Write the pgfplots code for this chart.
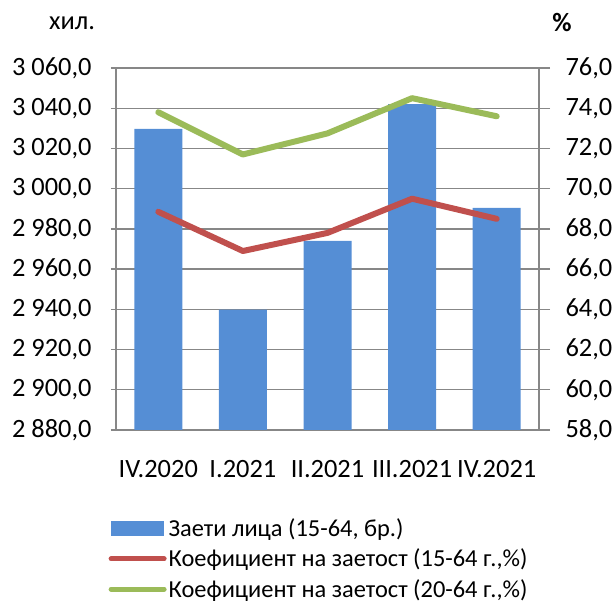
\documentclass[border=0pt]{standalone}
\usepackage{fontspec}
\setmainfont{Carlito}
\usepackage{pgfplots}
\pgfplotsset{compat=1.18}
\definecolor{barblue}{HTML}{558ED5}
\definecolor{lred}{HTML}{C0504D}
\definecolor{lgreen}{HTML}{9BBB59}
\definecolor{gridgray}{HTML}{878787}
\newcommand{\chartfont}{\fontsize{26.5}{31}\selectfont}
\newcommand{\legfont}{\fontsize{24.5}{29}\selectfont}
\pgfplotsset{
  common/.style={
    at={(116bp,181bp)}, anchor=south west,
    scale only axis, width=423bp, height=362bp,
    xmin=-0.5, xmax=4.5,
    tick align=outside,
    tick label style={font=\chartfont},
    ytick style={gridgray, line width=1.3bp},
    axis line style={gridgray, line width=1.3bp},
    yticklabel style={/pgf/number format/fixed, /pgf/number format/fixed zerofill, /pgf/number format/precision=1, /pgf/number format/use comma, /pgf/number format/1000 sep={\ }, /pgf/number format/assume math mode=true},
  }
}
\begin{document}
\begin{tikzpicture}
\useasboundingbox (0,0) rectangle (613bp,611bp);
\begin{axis}[common,
  ymin=2880, ymax=3060, ytick={2880,2900,...,3060},
  major tick length=5bp,
  xtick={0,...,4}, xticklabels={IV.2020,I.2021,II.2021,III.2021,IV.2021},
  xtick style={draw=none},
  xticklabel style={yshift=-22bp},
  ymajorgrids, grid style={gridgray, line width=1.3bp},
  axis y line*=left, axis x line*=bottom,
  yticklabel style={xshift=-16bp},
]
\addplot[ybar, bar width=48bp, fill=barblue, draw=none] coordinates {(0,3029.7) (1,2939.8) (2,2974.0) (3,3042.0) (4,2990.4)};
\end{axis}
\begin{axis}[common,
  ymin=58, ymax=76, ytick={58,60,...,76},
  major tick length=11bp,
  axis y line*=right, axis x line=none,
  yticklabel style={xshift=12bp},
  legend style={at={(-0.025,-0.235)}, anchor=north west, draw=none, fill=none, font=\legfont, row sep=8bp, nodes={inner ysep=1.5bp}},
  legend cell align=left,
]
\addlegendimage{legend image code/.code={\fill[barblue] (0bp,-7bp) rectangle (52bp,7bp);}}
\addlegendentry{Заети лица (15-64, бр.)}
\addplot[lred, line width=6bp, line join=round, line cap=round,
  legend image code/.code={\draw[lred, line width=5bp, line cap=round] (0bp,0bp) -- (53bp,0bp);}]
  coordinates {(0,68.85) (1,66.9) (2,67.8) (3,69.5) (4,68.5)};
\addlegendentry{Коефициент на заетост (15-64 г.,\%)}
\addplot[lgreen, line width=6bp, line join=round, line cap=round,
  legend image code/.code={\draw[lgreen, line width=5bp, line cap=round] (0bp,0bp) -- (53bp,0bp);}]
  coordinates {(0,73.8) (1,71.7) (2,72.75) (3,74.5) (4,73.6)};
\addlegendentry{Коефициент на заетост (20-64 г.,\%)}
\end{axis}
\node[font=\chartfont] at (72bp,588bp) {хил.};
\node[font=\chartfont\bfseries] at (562bp,588bp) {\%};
\end{tikzpicture}
\end{document}
